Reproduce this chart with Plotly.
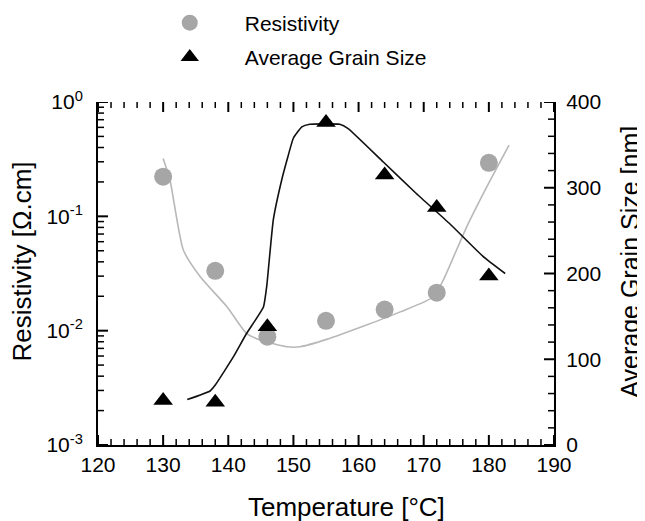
import plotly.graph_objects as go

# Measured data
temp_pts = [130, 138, 146, 155, 164, 172, 180]
resistivity = [0.222, 0.0334, 0.00885, 0.0122, 0.0153, 0.0215, 0.294]
grain_size = [52, 50, 138, 376, 315, 277, 197]

# Fitted curve (resistivity)
res_fit_t = [130.0, 131.05, 133.1, 135.7, 139.8, 142.8, 144.9, 149.0, 151.0, 155.1,
             161.2, 166.4, 171.5, 173.0, 176.6, 179.7, 183.1]
res_fit_v = [0.321, 0.208, 0.0507, 0.0296, 0.0162, 0.00946, 0.00828, 0.00723, 0.00723,
             0.00839, 0.0112, 0.0146, 0.0198, 0.0277, 0.081, 0.182, 0.42]

# Fitted curve (grain size)
gs_fit_t = [133.7, 137.2, 138.0, 140.8, 142.8, 145.4, 145.9, 146.9, 148.2, 149.0, 150.0,
            151.3, 152.5, 157.1, 158.4, 163.8, 168.9, 174.0, 179.1, 182.5]
gs_fit_v = [53, 63, 70, 103, 130, 161, 185, 262, 309, 332, 358,
            371, 374, 374, 369, 330, 293, 258, 220, 200]

# Axis ticks
x_ticks = [120, 130, 140, 150, 160, 170, 180, 190]
x_minor = [v for v in range(120, 191, 2) if v % 10 != 0]
y_ticks = [1e-3, 1e-2, 1e-1, 1]
y_ticktext = ["10<sup>-3</sup>", "10<sup>-2</sup>", "10<sup>-1</sup>", "10<sup>0</sup>"]
y_minor = [d * 10.0 ** e for e in (-3, -2, -1) for d in range(2, 10)]
y2_ticks = [0, 100, 200, 300, 400]
y2_minor = [v for v in range(0, 401, 20) if v % 100 != 0]

FONT = "Liberation Sans, Arial, sans-serif"
MAJ, MIN = 10, 6

fig = go.Figure()
fig.add_trace(go.Scatter(x=res_fit_t, y=res_fit_v, mode="lines",
                         line=dict(color="#b8b8b8", width=1.6, shape="spline", smoothing=0.6),
                         showlegend=False, hoverinfo="skip"))
fig.add_trace(go.Scatter(x=gs_fit_t, y=gs_fit_v, mode="lines", yaxis="y2",
                         line=dict(color="#111111", width=1.6, shape="spline", smoothing=0.4),
                         showlegend=False, hoverinfo="skip"))
fig.add_trace(go.Scatter(x=temp_pts, y=resistivity, mode="markers", name="Resistivity",
                         legendgroup="a",
                         marker=dict(symbol="circle", size=18, color="#a6a6a6")))
fig.add_trace(go.Scatter(x=temp_pts, y=grain_size, mode="markers", name="Average Grain Size",
                         yaxis="y2", legendgroup="b",
                         marker=dict(symbol="triangle-up", size=17, color="black")))

# Tick marks drawn as shapes (inside, mirrored on top)
shapes = []
for vals, ln, w in ((x_ticks, MAJ, 2), (x_minor, MIN, 1.5)):
    for v in vals:
        shapes.append(dict(type="line", xref="x", yref="paper", x0=v, x1=v,
                           ysizemode="pixel", yanchor=0, y0=0, y1=ln,
                           line=dict(color="black", width=w), layer="above"))
        shapes.append(dict(type="line", xref="x", yref="paper", x0=v, x1=v,
                           ysizemode="pixel", yanchor=1, y0=0, y1=-ln,
                           line=dict(color="black", width=w), layer="above"))
for vals, ln, w in ((y_ticks, MAJ, 2), (y_minor, MIN, 1.5)):
    for v in vals:
        shapes.append(dict(type="line", xref="paper", yref="y", y0=v, y1=v,
                           xsizemode="pixel", xanchor=0, x0=0, x1=ln,
                           line=dict(color="black", width=w), layer="above"))
for vals, ln, w in ((y2_ticks, MAJ, 2), (y2_minor, MIN, 1.5)):
    for v in vals:
        shapes.append(dict(type="line", xref="paper", yref="y2", y0=v, y1=v,
                           xsizemode="pixel", xanchor=1, x0=0, x1=-ln,
                           line=dict(color="black", width=w), layer="above"))

axis_common = dict(showgrid=False, zeroline=False, showline=True, linecolor="black",
                   linewidth=2, ticks="", automargin=False,
                   tickfont=dict(size=21, color="black", family=FONT))

title_font = dict(size=26, family=FONT, color="black")
annotations = [
    dict(text="Temperature [°C]", xref="paper", yref="paper", x=0.546, y=-0.181,
         xanchor="center", yanchor="middle", showarrow=False, font=title_font),
    dict(text="Resistivity [Ω.cm]", xref="paper", yref="paper", x=-0.166, y=0.536,
         xanchor="center", yanchor="middle", showarrow=False, textangle=-90, font=title_font),
    dict(text="Average Grain Size [nm]", xref="paper", yref="paper", x=1.166, y=0.5335,
         xanchor="center", yanchor="middle", showarrow=False, textangle=-90,
         font=dict(size=25, family=FONT, color="black")),
]

# The page body adds an 8px margin, so the figure is 8px smaller on each axis
fig.update_layout(
    width=637, height=513,
    margin=dict(l=90, r=91, t=94, b=76, autoexpand=False),
    paper_bgcolor="white", plot_bgcolor="white",
    font=dict(family=FONT, color="black"),
    xaxis=dict(range=[120, 190], tickvals=x_ticks, **axis_common),
    yaxis=dict(type="log", range=[-3, 0], tickvals=y_ticks, ticktext=y_ticktext,
               ticklabelstandoff=9, **axis_common),
    yaxis2=dict(overlaying="y", side="right", range=[0, 400], tickvals=y2_ticks,
                ticklabelstandoff=6, **axis_common),
    shapes=shapes,
    annotations=annotations,
    legend=dict(x=0.199, xref="container", y=1.29, yref="paper",
                xanchor="left", yanchor="top",
                font=dict(size=21, family=FONT), bgcolor="rgba(0,0,0,0)",
                itemwidth=100, tracegroupgap=4, traceorder="grouped"),
)

fig.write_html("out.html")
